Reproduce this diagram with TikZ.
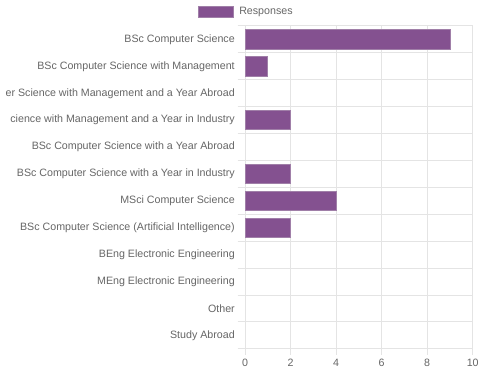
\documentclass[tikz,border=0pt]{standalone}
\usepackage{fontspec}
\setmainfont{Liberation Sans}
\definecolor{barfill}{HTML}{845190}
\definecolor{barline}{HTML}{A07FA8}
\definecolor{gridc}{HTML}{E4E4E4}
\definecolor{txt}{HTML}{666666}
\tikzset{
  gridline/.style={draw=gridc, line width=0.75pt},
  bar/.style={fill=barfill, draw=barline, line width=0.6pt},
  lab/.style={anchor=east, inner sep=0pt, text=txt, font=\fontsize{8.0pt}{9pt}\selectfont},
  tick/.style={anchor=center, inner sep=0pt, text=txt, font=\fontsize{8.0pt}{9pt}\selectfont},
}
\begin{document}
\begin{tikzpicture}[x=0.75pt, y=-0.75pt]
\useasboundingbox (0,0) rectangle (481,370);
\fill[white] (0,0) rectangle (481,370);
% legend
\draw[bar] (198.3,6.8) rectangle (233.3,17.2);
\node[lab, anchor=west] (legend) at (239,12) {Responses};
% horizontal grid lines
\foreach \k in {0,...,12}{
  \draw[gridline] (237.7,{26+\k*26.9}) -- (472.7,{26+\k*26.9});
}
% vertical grid lines and ticks
\foreach \j/\v in {0/0,1/2,2/4,3/6,4/8,5/10}{
  \draw[gridline] ({245+\j*45.54},26) -- ({245+\j*45.54},355);
  \node[tick] (t\j) at ({245+\j*45.54},363) {\v};
}
% labels
\foreach \i/\t in {0/BSc Computer Science,
  1/BSc Computer Science with Management,
  2/er Science with Management and a Year Abroad,
  3/cience with Management and a Year in Industry,
  4/BSc Computer Science with a Year Abroad,
  5/BSc Computer Science with a Year in Industry,
  6/MSci Computer Science,
  7/BSc Computer Science (Artificial Intelligence),
  8/BEng Electronic Engineering,
  9/MEng Electronic Engineering,
  10/Other,
  11/Study Abroad}{
  \node[lab] (l\i) at (235,{26+(\i+0.5)*26.9}) {\t};
}
% bars
\foreach \i/\v in {0/9,1/1,3/2,5/2,6/4,7/2}{
  \draw[bar] (245.5,{26+(\i+0.5)*26.9-9.6}) rectangle ({245+\v*22.77},{26+(\i+0.5)*26.9+9.6});
}
\end{tikzpicture}
\end{document}
